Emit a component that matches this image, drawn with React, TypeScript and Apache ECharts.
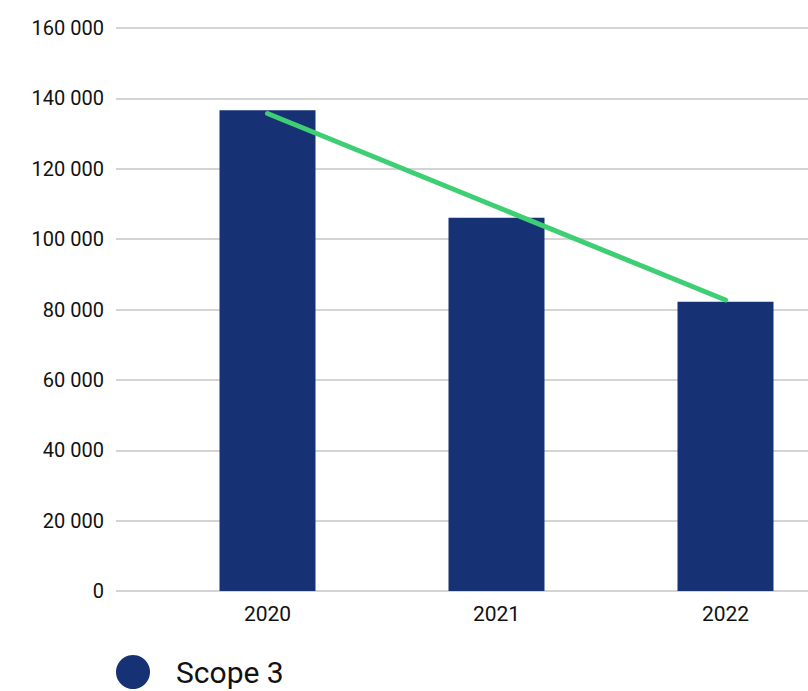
import React, { useEffect, useRef } from "react";
import * as echarts from "echarts";

const categories = ["2020", "2021", "2022"];
const scope3Values = [136600, 106100, 82200];
const trendValues = [135700, 109200, 82700];
const yMin = 0;
const yMax = 160000;
const yInterval = 20000;

const fmt = (v: number) =>
  v === 0 ? "0" : String(v).replace(/\B(?=(\d{3})+(?!\d))/g, " ");

export default function App() {
  const ref = useRef<HTMLDivElement>(null);
  useEffect(() => {
    document.body.style.margin = "0";
    const chart = echarts.init(ref.current!, undefined, { renderer: "svg" });
    const font = "Roboto, 'Noto Sans', sans-serif";
    chart.setOption({
      animation: false,
      backgroundColor: "#ffffff",
      grid: [
        { left: 116, width: 692, top: 28, bottom: 100 },
        { left: 153, width: 687, top: 28, bottom: 100 },
      ],
      xAxis: [
        { type: "value", gridIndex: 0, show: false, min: 0, max: 1 },
        {
          type: "category",
          gridIndex: 1,
          data: categories,
          axisLine: { show: false },
          axisTick: { show: false },
          axisLabel: { color: "#111", fontSize: 21, fontFamily: font, margin: 12 },
        },
      ],
      yAxis: [
        {
          type: "value",
          gridIndex: 0,
          min: yMin,
          max: yMax,
          interval: yInterval,
          axisLine: { show: false },
          axisTick: { show: false },
          splitLine: { lineStyle: { color: "#d4d4d4", width: 2 } },
          axisLabel: {
            color: "#111",
            fontSize: 20,
            fontFamily: font,
            margin: 12,
            formatter: (v: number) => fmt(v),
            padding: [0, 0, 6, 0],
          },
        },
        {
          type: "value",
          gridIndex: 1,
          min: yMin,
          max: yMax,
          interval: yInterval,
          show: false,
          splitLine: { show: false },
        },
      ],
      legend: {
        data: ["Scope 3"],
        left: 116,
        top: 655,
        padding: 0,
        icon: "circle",
        itemWidth: 34,
        itemHeight: 34,
        itemGap: 20,
        textStyle: {
          color: "#111",
          fontSize: 30,
          lineHeight: 34,
          fontFamily: font,
          padding: [0, 0, 0, 21],
        },
      },
      series: [
        {
          name: "Scope 3",
          type: "bar",
          xAxisIndex: 1,
          yAxisIndex: 1,
          data: scope3Values,
          barWidth: 96,
          itemStyle: { color: "#163274" },
        },
        {
          name: "Trend",
          type: "line",
          xAxisIndex: 1,
          yAxisIndex: 1,
          data: trendValues,
          symbol: "none",
          lineStyle: { color: "#3ecf74", width: 5, cap: "round" },
          z: 5,
        },
      ],
    });
    return () => chart.dispose();
  }, []);
  return (
    <div
      style={{
        position: "fixed",
        left: 0,
        top: 0,
        width: 808,
        height: 691,
        overflow: "hidden",
        background: "#fff",
      }}
    >
      <div ref={ref} style={{ width: 845, height: 691 }} />
    </div>
  );
}
